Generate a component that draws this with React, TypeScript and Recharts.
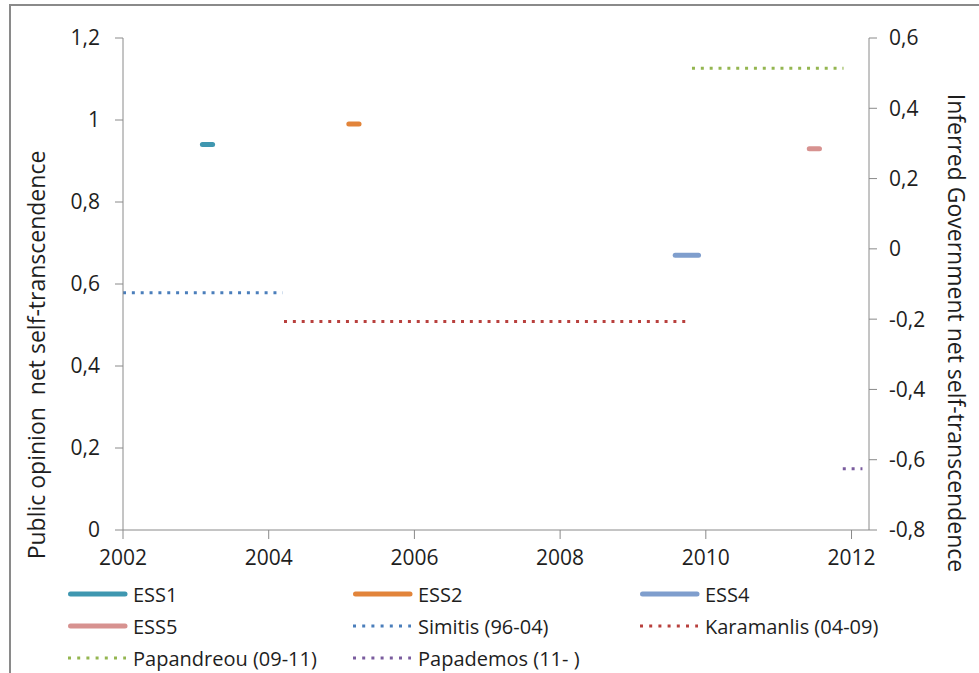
import React from 'react';
import { LineChart, Line, XAxis, YAxis, Legend, Label } from 'recharts';

const xTicks = [2002, 2004, 2006, 2008, 2010, 2012];
const leftTicks = [0, 0.2, 0.4, 0.6, 0.8, 1, 1.2];
const rightTicks = [-0.8, -0.6, -0.4, -0.2, 0, 0.2, 0.4, 0.6];

// Public opinion (left axis) survey segments
const ess1 = [{ year: 2003.09, value: 0.94 }, { year: 2003.23, value: 0.94 }];
const ess2 = [{ year: 2005.1, value: 0.99 }, { year: 2005.24, value: 0.99 }];
const ess4 = [{ year: 2009.58, value: 0.67 }, { year: 2009.9, value: 0.67 }];
const ess5 = [{ year: 2011.42, value: 0.93 }, { year: 2011.56, value: 0.93 }];

// Inferred government (right axis) segments
const simitis = [{ year: 2002.0, value: -0.125 }, { year: 2004.19, value: -0.125 }];
const karamanlis = [{ year: 2004.21, value: -0.207 }, { year: 2009.72, value: -0.207 }];
const papandreou = [{ year: 2009.81, value: 0.514 }, { year: 2011.89, value: 0.514 }];
const papademos = [{ year: 2011.88, value: -0.626 }, { year: 2012.15, value: -0.626 }];

const series = [
  { name: 'ESS1', data: ess1, color: '#3F97B0', axis: 'left', dotted: false },
  { name: 'ESS2', data: ess2, color: '#E2843A', axis: 'left', dotted: false },
  { name: 'ESS4', data: ess4, color: '#7F9ECD', axis: 'left', dotted: false },
  { name: 'ESS5', data: ess5, color: '#D79290', axis: 'left', dotted: false },
  { name: 'Simitis (96-04)', data: simitis, color: '#4A7EBB', axis: 'right', dotted: true },
  { name: 'Karamanlis (04-09)', data: karamanlis, color: '#B8403D', axis: 'right', dotted: true },
  { name: 'Papandreou (09-11)', data: papandreou, color: '#94B650', axis: 'right', dotted: true },
  { name: 'Papademos (11- )', data: papademos, color: '#7A5C9E', axis: 'right', dotted: true },
];

const FONT = '"Open Sans", sans-serif';
const TEXT = '#1e1e1e';
const AXIS = '#8a8a8a';

const fmt = (v: number) => {
  if (Math.abs(v) < 1e-9) return '0';
  if (Math.abs(v - 1) < 1e-9) return '1';
  return v.toFixed(1).replace('.', ',');
};

const LegendContent = () => {
  const colX = [68, 353, 640];
  const rowY = [16, 48, 80];
  return (
    <svg width={979} height={100} style={{ display: 'block' }}>
      {series.map((s, i) => {
        const cx = colX[i % 3];
        const cy = rowY[Math.floor(i / 3)];
        return (
          <g key={s.name}>
            {s.dotted ? (
              <line x1={cx} y1={cy} x2={cx + 58} y2={cy} stroke={s.color} strokeWidth={3} strokeDasharray="3 6.2" />
            ) : (
              <line x1={cx + 2.5} y1={cy} x2={cx + 57} y2={cy} stroke={s.color} strokeWidth={5} strokeLinecap="round" />
            )}
            <text x={cx + 65} y={cy} dominantBaseline="central" fontFamily={FONT} fontSize={20} fill={TEXT}>
              {s.name}
            </text>
          </g>
        );
      })}
    </svg>
  );
};

export default function App() {
  return (
    <div style={{ position: 'absolute', left: 0, top: 0, width: 979, height: 673, background: '#fff', overflow: 'hidden' }}>
      <div
        style={{
          position: 'absolute',
          left: 9,
          top: 4,
          width: 979,
          height: 700,
          borderTop: `2px solid ${AXIS}`,
          borderLeft: `2px solid ${AXIS}`,
        }}
      />
      <div style={{ position: 'absolute', left: 0, top: 0 }}>
        <LineChart width={979} height={673} margin={{ top: 38, right: 0, bottom: 103, left: 0 }}>
          <XAxis
            dataKey="year"
            type="number"
            domain={[2002, 2012.24]}
            allowDataOverflow
            ticks={xTicks}
            height={40}
            stroke={AXIS}
            tickSize={9}
            tickMargin={11}
            tick={{ fontFamily: FONT, fontSize: 21, fill: TEXT }}
            axisLine={{ stroke: AXIS }}
            tickLine={{ stroke: AXIS }}
          />
          <YAxis
            yAxisId="left"
            orientation="left"
            width={123}
            domain={[0, 1.2]}
            ticks={leftTicks}
            tickFormatter={fmt}
            tickSize={8}
            tickMargin={15}
            tick={{ fontFamily: FONT, fontSize: 21, fill: TEXT }}
            axisLine={{ stroke: AXIS }}
            tickLine={{ stroke: AXIS }}
          >
            <Label
              content={() => (
                <text
                  x={36}
                  y={355}
                  transform="rotate(-90 36 355)"
                  textAnchor="middle"
                  dominantBaseline="central"
                  fontFamily={FONT}
                  fontSize={23}
                  fill={TEXT}
                  style={{ whiteSpace: 'pre' }}
                >
                  {'Public opinion  net self-transcendence'}
                </text>
              )}
            />
          </YAxis>
          <YAxis
            yAxisId="right"
            orientation="right"
            width={110}
            domain={[-0.8, 0.6]}
            ticks={rightTicks}
            tickFormatter={fmt}
            tickSize={8}
            tickMargin={12}
            tick={{ fontFamily: FONT, fontSize: 21, fill: TEXT }}
            axisLine={{ stroke: AXIS }}
            tickLine={{ stroke: AXIS }}
          >
            <Label
              content={() => (
                <text
                  x={957}
                  y={333}
                  transform="rotate(90 957 333)"
                  textAnchor="middle"
                  dominantBaseline="central"
                  fontFamily={FONT}
                  fontSize={23}
                  fill={TEXT}
                >
                  Inferred Government net self-transcendence
                </text>
              )}
            />
          </YAxis>
          <Legend
            layout="horizontal"
            verticalAlign="middle"
            align="center"
            wrapperStyle={{ top: 578, left: 0, width: 979, height: 100 }}
            content={() => <LegendContent />}
          />
          {series.map((s) => (
            <Line
              key={s.name}
              name={s.name}
              data={s.data}
              dataKey="value"
              yAxisId={s.axis}
              type="linear"
              stroke={s.color}
              strokeWidth={s.dotted ? 3 : 5}
              strokeDasharray={s.dotted ? '3 5.85' : undefined}
              strokeLinecap={s.dotted ? 'butt' : 'round'}
              dot={false}
              activeDot={false}
              isAnimationActive={false}
            />
          ))}
        </LineChart>
      </div>
    </div>
  );
}
